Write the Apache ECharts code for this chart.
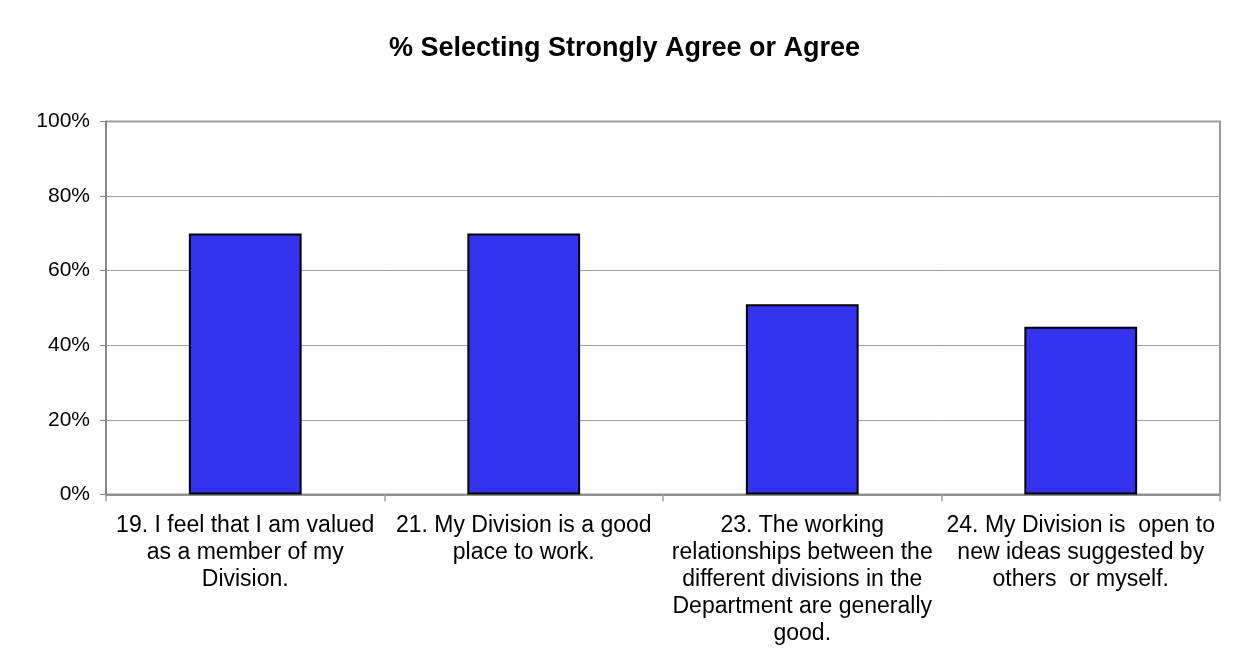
<!DOCTYPE html>
<html>
<head>
<meta charset="utf-8">
<style>
  html, body { margin: 0; padding: 0; background: #ffffff; }
  #chart { width: 1238px; height: 664px; }
</style>
<script src="https://cdn.jsdelivr.net/npm/echarts@6/dist/echarts.min.js"></script>
</head>
<body>
<div id="chart"></div>
<script>
// Survey items (line breaks as laid out under each bar)
const categories = [
  '19. I feel that I am valued\nas a member of my\nDivision.',
  '21. My Division is a good\nplace to work.',
  '23. The working\nrelationships between the\ndifferent divisions in the\nDepartment are generally\ngood.',
  '24. My Division is  open to\nnew ideas suggested by\nothers  or myself.'
];

// Share of respondents selecting Strongly Agree or Agree (%)
const agreePct = [70, 70, 51, 45];

// Value axis ticks (%)
const yTicks = [0, 20, 40, 60, 80, 100];

const chart = echarts.init(document.getElementById('chart'), null, { renderer: 'canvas' });

chart.setOption({
  animation: false,
  backgroundColor: '#ffffff',
  textStyle: { fontFamily: 'Liberation Sans, Arial, sans-serif' },
  title: {
    text: '% Selecting Strongly Agree or Agree',
    left: 384,
    top: 30,
    textStyle: {
      fontFamily: 'Liberation Sans, Arial, sans-serif',
      fontSize: 27,
      fontWeight: 'bold',
      color: '#000000'
    }
  },
  grid: {
    left: 106,
    right: 18,
    top: 121.5,
    bottom: 169.5,
    show: true,
    borderColor: '#9a9a9a',
    borderWidth: 2,
    backgroundColor: 'transparent'
  },
  xAxis: {
    type: 'category',
    data: categories,
    axisLine: { show: true, lineStyle: { color: '#808080', width: 1.5 } },
    axisTick: { show: true, length: 7, alignWithLabel: false, lineStyle: { color: '#a0a0a0', width: 1.5 } },
    axisLabel: {
      interval: 0,
      margin: 18,
      color: '#000000',
      fontSize: 23,
      lineHeight: 27,
      align: 'center',
      fontFamily: 'Liberation Sans, Arial, sans-serif'
    },
    splitLine: { show: false }
  },
  yAxis: {
    type: 'value',
    min: yTicks[0],
    max: yTicks[yTicks.length - 1],
    interval: yTicks[1] - yTicks[0],
    axisLine: { show: true, lineStyle: { color: '#808080', width: 1.5 } },
    axisTick: { show: true, length: 6, lineStyle: { color: '#808080', width: 1 } },
    axisLabel: {
      margin: 16,
      color: '#000000',
      fontSize: 21,
      fontFamily: 'Liberation Sans, Arial, sans-serif',
      formatter: v => v + '%'
    },
    splitLine: { show: true, lineStyle: { color: '#a0a0a0', width: 1 } }
  },
  series: [{
    type: 'bar',
    data: agreePct,
    barWidth: '40.5%',
    itemStyle: {
      color: '#3333ee',
      borderColor: '#000000',
      borderWidth: 2
    },
    emphasis: { disabled: true }
  }]
});
</script>
</body>
</html>
